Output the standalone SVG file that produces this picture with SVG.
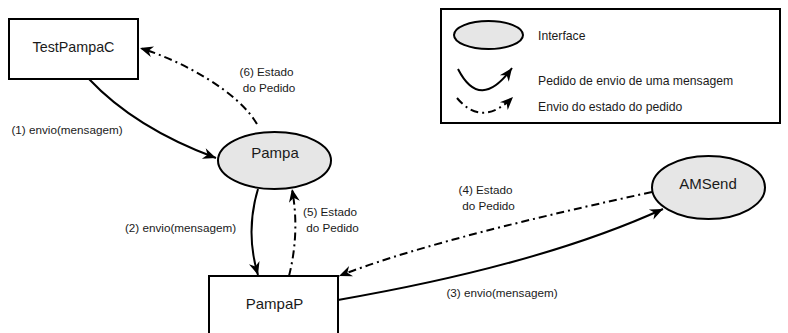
<svg xmlns="http://www.w3.org/2000/svg" width="788" height="333" viewBox="0 0 788 333">
<style>
.box{fill:#fff;stroke:#000;stroke-width:2}
.iface{fill:#e6e6e6;stroke:#000;stroke-width:2}
.node{font-family:"Liberation Sans",Arial,sans-serif;font-size:15px;fill:#1a1a1a;text-anchor:middle}
.lbl{font-family:"Liberation Sans",Arial,sans-serif;font-size:11.7px;fill:#1a1a1a;text-anchor:middle}
.leg{font-family:"Liberation Sans",Arial,sans-serif;font-size:12.2px;fill:#1a1a1a}
.solid{fill:none;stroke:#000;stroke-width:2;marker-end:url(#ah)}
.dd{fill:none;stroke:#000;stroke-width:2;stroke-dasharray:8,4,2,4;marker-end:url(#ah)}
</style>
<defs>
<marker id="ah" markerUnits="userSpaceOnUse" markerWidth="14" markerHeight="12" refX="13" refY="5.5" orient="auto" overflow="visible">
<path d="M0,0 L13,5.5 L0,11 L4,5.5 z" fill="#000"/>
</marker>
</defs>
<rect width="788" height="333" fill="#fff"/>
<g id="legend">
<rect class="box" x="441" y="9" width="339" height="114"/>
<ellipse class="iface" cx="488.5" cy="35" rx="34.5" ry="14"/>
<text class="leg" x="538" y="40">Interface</text>
<path class="solid" d="M458,69 Q480,112 512,68"/>
<text class="leg" x="538" y="85">Pedido de envio de uma mensagem</text>
<path class="dd" d="M457,98 Q482,128 513,97"/>
<text class="leg" x="538" y="111">Envio do estado do pedido</text>
</g>
<g id="connectors">
<path class="solid" d="M89,79 Q135,128 216,158"/>
<path class="dd" d="M257,124 C238,92 185,62 140,48"/>
<path class="solid" d="M258,189 Q245,232 258,275"/>
<path class="dd" d="M289,276 Q300,232 292,189"/>
<path class="dd" d="M652,192 Q430,240 339,276"/>
<path class="solid" d="M338,300 Q540,265 663,209"/>
<text class="lbl" x="67" y="134">(1) envio(mensagem)</text>
<text class="lbl" x="266.5" y="76">(6) Estado</text>
<text class="lbl" x="269" y="92">do Pedido</text>
<text class="lbl" x="180.5" y="232">(2) envio(mensagem)</text>
<text class="lbl" x="330" y="216">(5) Estado</text>
<text class="lbl" x="332.5" y="232">do Pedido</text>
<text class="lbl" x="485.5" y="194">(4) Estado</text>
<text class="lbl" x="488.5" y="210">do Pedido</text>
<text class="lbl" x="502" y="297">(3) envio(mensagem)</text>
</g>
<g id="TestPampaC">
<rect class="box" x="9" y="19" width="129" height="60"/>
<text class="node" x="73.5" y="51.5" style="font-size:14.3px">TestPampaC</text>
</g>
<g id="Pampa">
<ellipse class="iface" cx="274.5" cy="160.5" rx="56.5" ry="28.5"/>
<text class="node" x="275" y="158">Pampa</text>
</g>
<g id="PampaP">
<rect class="box" x="209" y="276" width="129" height="60"/>
<text class="node" x="274.5" y="309">PampaP</text>
</g>
<g id="AMSend">
<ellipse class="iface" cx="708.5" cy="187.5" rx="56.5" ry="31.5"/>
<text class="node" x="708" y="189">AMSend</text>
</g>
</svg>
